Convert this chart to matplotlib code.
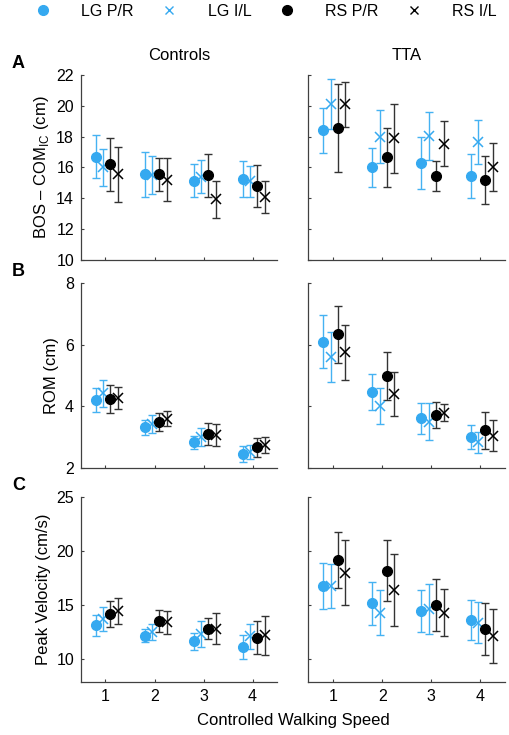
import numpy as np
import matplotlib
matplotlib.use("Agg")
import matplotlib.pyplot as plt
from matplotlib.lines import Line2D

# ----------------------------------------------------------
# DATA (means and error bar half-widths)
# ----------------------------------------------------------
speeds = [1, 2, 3, 4]
series = ["LG P/R", "LG I/L", "RS P/R", "RS I/L"]
groups = ["Controls", "TTA"]

# A: BOS - COM_IC (cm)
bos_ctrl = [[16.7, 15.55, 15.15, 15.25],
            [16.0, 15.5, 15.4, 15.1],
            [16.2, 15.55, 15.5, 14.8],
            [15.55, 15.2, 13.95, 14.07]]
bos_ctrl_err = [[1.4, 1.45, 1.07, 1.15],
                [1.2, 1.25, 1.08, 1.0],
                [1.7, 1.05, 1.4, 1.33],
                [1.77, 1.4, 1.2, 1.05]]
bos_tta = [[18.4, 16.0, 16.3, 15.45],
           [20.1, 18.0, 18.05, 17.65],
           [18.58, 16.66, 15.45, 15.2],
           [20.1, 17.9, 17.55, 16.05]]
bos_tta_err = [[1.43, 1.25, 1.7, 1.43],
               [1.62, 1.7, 1.57, 1.43],
               [2.85, 1.92, 0.95, 1.55],
               [1.45, 2.25, 1.47, 1.57]]

# B: ROM (cm)
rom_ctrl = [[4.2, 3.32, 2.83, 2.45],
            [4.42, 3.43, 3.0, 2.52],
            [4.23, 3.49, 3.1, 2.67],
            [4.27, 3.6, 3.07, 2.75]]
rom_ctrl_err = [[0.38, 0.25, 0.2, 0.25],
                [0.45, 0.3, 0.3, 0.22],
                [0.45, 0.3, 0.35, 0.3],
                [0.37, 0.25, 0.35, 0.27]]
rom_tta = [[6.1, 4.47, 3.61, 3.01],
           [5.6, 4.0, 3.5, 2.83],
           [6.33, 4.98, 3.72, 3.23],
           [5.75, 4.4, 3.79, 3.05]]
rom_tta_err = [[0.86, 0.58, 0.5, 0.4],
               [0.8, 0.58, 0.6, 0.33],
               [0.94, 0.78, 0.43, 0.6],
               [0.89, 0.7, 0.27, 0.5]]

# C: Peak Velocity (cm/s)
vel_ctrl = [[13.15, 12.16, 11.67, 11.14],
            [13.7, 12.53, 12.3, 12.13],
            [14.23, 13.55, 12.84, 12.0],
            [14.47, 13.4, 12.84, 12.22]]
vel_ctrl_err = [[0.97, 0.6, 0.77, 1.1],
                [1.1, 0.77, 1.2, 1.15],
                [1.2, 1.0, 0.93, 1.5],
                [1.2, 1.05, 1.4, 1.8]]
vel_tta = [[16.76, 15.16, 14.44, 13.67],
           [16.76, 14.32, 14.63, 13.36],
           [19.17, 18.18, 15.0, 12.84],
           [18.0, 16.39, 14.32, 12.13]]
vel_tta_err = [[2.1, 2.0, 1.95, 1.85],
               [2.05, 2.1, 2.3, 1.9],
               [2.55, 2.8, 2.4, 2.4],
               [2.98, 3.3, 2.15, 2.5]]

# ----------------------------------------------------------
# STYLE
# ----------------------------------------------------------
plt.rcParams["font.family"] = ["Liberation Sans", "DejaVu Sans"]
plt.rcParams["mathtext.fontset"] = "custom"
plt.rcParams["mathtext.rm"] = "Liberation Sans"
plt.rcParams["font.size"] = 11.5

BLUE = "#35A9F0"
BLACK = "#000000"
colors = [BLUE, BLUE, BLACK, BLACK]
ecolors = ["#45B2F2", "#45B2F2", "#333333", "#333333"]
markers = ["o", "x", "o", "x"]
offsets = [-0.2, -0.05, 0.1, 0.25]

panels = [
    ("A", "BOS – COM$_{\\rm IC}$ (cm)", (10, 22), np.arange(10, 23, 2),
     [(bos_ctrl, bos_ctrl_err), (bos_tta, bos_tta_err)]),
    ("B", "ROM (cm)", (2, 8), np.arange(2, 9, 2),
     [(rom_ctrl, rom_ctrl_err), (rom_tta, rom_tta_err)]),
    ("C", "Peak Velocity (cm/s)", (7.9, 25), np.arange(10, 26, 5),
     [(vel_ctrl, vel_ctrl_err), (vel_tta, vel_tta_err)]),
]

fig = plt.figure(figsize=(5.1, 7.35), dpi=100)

W, H = 510.0, 735.0
col_x = [(81, 277), (308.5, 505)]
row_y = [(75, 260), (283, 468), (497, 682)]

x = np.array(speeds, dtype=float)

for r, (letter, ylab, ylim, yticks, data) in enumerate(panels):
    for c in range(2):
        x0, x1 = col_x[c]
        y0, y1 = row_y[r]
        ax = fig.add_axes([x0 / W, 1 - y1 / H, (x1 - x0) / W, (y1 - y0) / H])
        means, errs = data[c]
        for s in range(4):
            if markers[s] == "o":
                kw = dict(marker="o", markersize=7, markerfacecolor=colors[s],
                          markeredgecolor=colors[s])
            else:
                kw = dict(marker="x", markersize=7.5, markeredgewidth=1.1,
                          color=colors[s])
            ax.errorbar(x + offsets[s], means[s], yerr=errs[s], fmt="none",
                        ecolor=ecolors[s], elinewidth=1.0, capsize=2.8,
                        capthick=1.0, zorder=2)
            ax.plot(x + offsets[s], means[s], linestyle="none", zorder=3,
                    **kw)

        ax.set_xlim(0.5, 4.5)
        ax.set_ylim(*ylim)
        ax.set_xticks(speeds)
        ax.set_yticks(yticks)
        for sp in ["top", "right"]:
            ax.spines[sp].set_visible(False)
        for sp in ["left", "bottom"]:
            ax.spines[sp].set_color("#404040")
            ax.spines[sp].set_linewidth(0.9)
        ax.tick_params(direction="in", length=2.5, width=0.8, colors="#404040",
                       labelcolor="black", labelsize=11.5, pad=5)
        if r < 2:
            ax.set_xticklabels([])
        if c == 1:
            ax.set_yticklabels([])
        else:
            ax.set_ylabel(ylab, fontsize=12, labelpad=4)
        if r == 0:
            ax.set_title(groups[c], fontsize=12, pad=11)

    fig.text(12 / W, 1 - (row_y[r][0] - 12) / H, letter, fontsize=13,
             fontweight="bold", ha="left", va="center")

fig.text(293 / W, 1 - 720 / H, "Controlled Walking Speed", fontsize=12,
         ha="center", va="center")

# ----------------------------------------------------------
# LEGEND
# ----------------------------------------------------------
handles = []
for s in range(4):
    if markers[s] == "o":
        handles.append(Line2D([], [], linestyle="none", marker="o", markersize=7,
                              color=colors[s]))
    else:
        handles.append(Line2D([], [], linestyle="none", marker="x", markersize=6,
                              markeredgewidth=1.0, color=colors[s]))
fig.legend(handles, series, loc="center", bbox_to_anchor=(266 / W, 1 - 11 / H),
           ncol=4, frameon=False, fontsize=11.5, handlelength=1.0,
           handletextpad=1.9, columnspacing=1.72)

fig.savefig("out.png", dpi=100)
